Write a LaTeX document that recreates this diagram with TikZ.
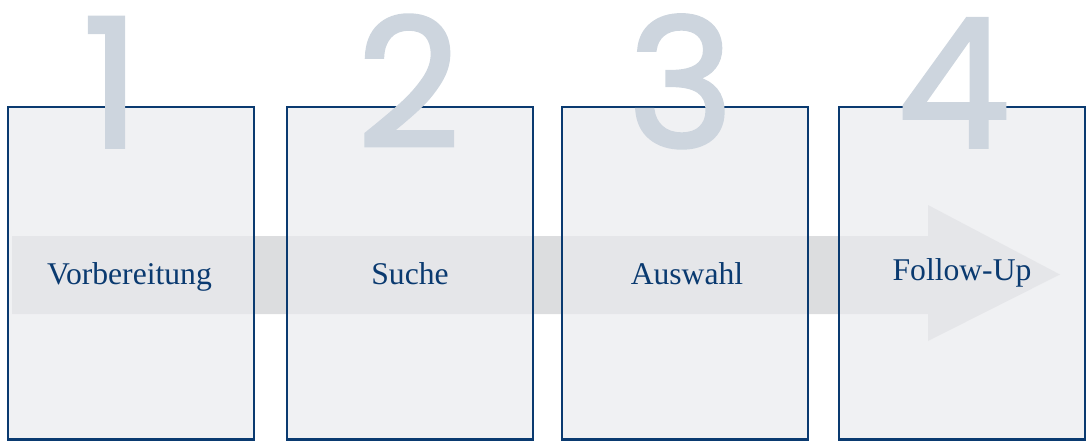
\documentclass[tikz,border=0pt]{standalone}
\usepackage{fontspec}
\setmainfont{Liberation Serif}
\newfontfamily\numfont[FakeBold=2]{Poppins}
\definecolor{framecol}{RGB}{10,58,112}
\definecolor{boxfill}{RGB}{234,235,238}
\definecolor{arrowcol}{RGB}{220,221,223}
\definecolor{numcol}{RGB}{205,213,222}
\tikzset{
    phasebox/.style={draw=framecol, line width=1.6pt, fill=boxfill, fill opacity=0.71, text opacity=1},
    phaselabel/.style={text=framecol, anchor=base, font=\fontsize{18}{21}\selectfont},
    phasenum/.style={text=numcol, anchor=base, inner sep=0pt, font=\numfont\fontsize{102}{102}\selectfont}
}

\begin{document}
\begin{tikzpicture}
        \useasboundingbox (0,0) rectangle (21.72,8.82);
        % arrow behind the boxes
        \fill [arrowcol] (0.24,4.10) -- (18.56,4.10) -- (18.56,4.72) -- (21.20,3.33)
            -- (18.56,2.00) -- (18.56,2.54) -- (0.24,2.54) -- cycle;
        \draw [phasebox] (0.16,0.03) rectangle (5.08,6.68)
            node (vorbereitung) [phaselabel] at (2.59,3.14) {Vorbereitung};
        \draw [phasebox] (5.74,0.03) rectangle (10.66,6.68)
            node (suche) [phaselabel] at (8.20,3.14) {Suche};
        \draw [phasebox] (11.24,0.03) rectangle (16.16,6.68)
            node (auswahl) [phaselabel] at (13.74,3.14) {Auswahl};
        \draw [phasebox] (16.78,0.03) rectangle (21.70,6.68)
            node (followup) [phaselabel] at (19.24,3.22) {Follow-Up};
        % big step numbers
        \node (num1) [phasenum] at (2.23,5.88) {1};
        \node (num2) [phasenum] at (8.17,5.88) {2};
        \node (num3) [phasenum] at (13.62,5.88) {3};
        \node (num4) [phasenum] at (19.07,5.88) {4};
    \end{tikzpicture}
\end{document}
